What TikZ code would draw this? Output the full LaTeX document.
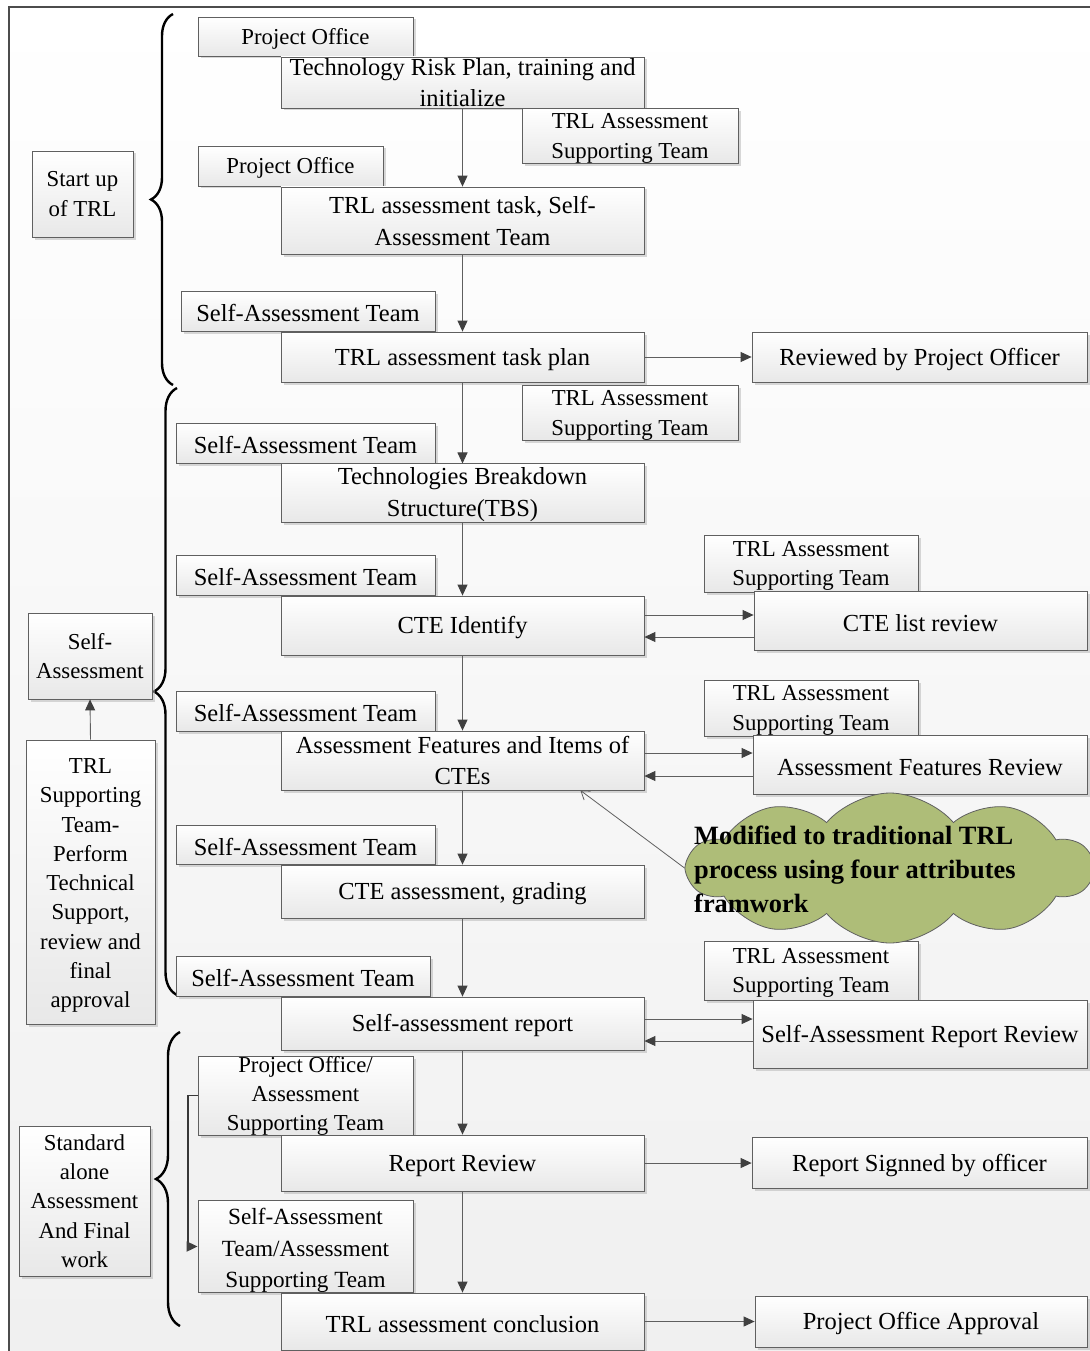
\documentclass[tikz,border=0pt]{standalone}
\usepackage{fontspec}
\setmainfont{Liberation Serif}
\usetikzlibrary{arrows.meta,shapes.symbols,shadows,decorations.pathreplacing,calc}

\definecolor{cloudg}{RGB}{174,189,120}
\definecolor{edge}{RGB}{96,96,96}
\definecolor{linec}{RGB}{95,95,95}
\definecolor{tipc}{RGB}{64,64,64}

% invisible strut that lowers a multi-line text block
\newcommand\lift[1]{\rule{0pt}{#1}}

\tikzset{
  box/.style={draw=edge, line width=0.8pt, top color=white, bottom color=black!9,
    inner sep=0pt, align=center,
    drop shadow={shadow xshift=2.5pt, shadow yshift=-2.5pt, fill=black!30}},
  % a tall invisible strut on single lines sets the text a little lower
  big/.style={box, font=\fontsize{24.5}{31.5}\selectfont,
    execute at begin node={\rule{0pt}{21.5pt}}},
  sml/.style={box, font=\fontsize{22.8}{29.3}\selectfont,
    execute at begin node={\rule{0pt}{20pt}}},
  nostrut/.style={execute at begin node={}},
  arr/.style={draw=linec, line width=0.9pt, -{Triangle[length=11pt,width=10pt,fill=tipc,color=tipc]}},
  callarrow/.style={draw=linec, line width=0.8pt, -{Straight Barb[length=8pt,width=11pt]}},
  brc/.style={decorate, decoration={brace, amplitude=#1}, line width=2.4pt, black},
}

\begin{document}
\begin{tikzpicture}[x=1pt, y=-1pt]
\useasboundingbox (0,0) rectangle (1089,1351);
% page and frame
\fill[white] (0,0) rectangle (1089,1351);
\path[top color=white, bottom color=black!6, draw=black!70, line width=1.2pt]
  (9,7) rectangle (1110,1370);

% phase braces
\draw[brc=22pt] (173,385) -- (173,14);
\draw[brc=23pt] (177,995) -- (177,388);
\draw[brc=24pt] (180,1326) -- (180,1032);

% phase labels (left column)
\node[sml, minimum width=101pt, minimum height=86pt] (l1) at (82.5,194) {Start up\\of TRL};
\node[sml, minimum width=124pt, minimum height=86pt] (l2) at (90,656) {Self-\\Assessment};
\node[sml, minimum width=129pt, minimum height=284pt, font=\fontsize{22.8}{29.25}\selectfont] (l3) at (90.5,882)
  {\lift{22pt}TRL\\Supporting\\Team-\\Perform\\Technical\\Support,\\review and\\final\\approval};
\node[sml, minimum width=131pt, minimum height=150pt] (l4) at (84.5,1201)
  {Standard\\alone\\Assessment\\And Final\\work};

% start-up phase
\node[sml, minimum width=215pt, minimum height=39pt] (po1) at (305.5,36.5) {Project Office};
\node[big, nostrut, minimum width=363pt, minimum height=51pt] (b2) at (462.5,82.5) {Technology Risk Plan, training and\\initialize};
\node[sml, minimum width=216pt, minimum height=54pt] (st3) at (630,136) {\lift{20pt}TRL Assessment\\Supporting Team};
\node[sml, minimum width=185pt, minimum height=40pt] (po4) at (290.5,166) {Project Office};
\node[big, minimum width=363pt, minimum height=67pt, font=\fontsize{24.5}{32}\selectfont] (b5) at (462.5,220.5) {TRL assessment task, Self-\\Assessment Team};
\node[big, minimum width=254pt, minimum height=40pt] (sa6) at (308,311) {Self-Assessment Team};
\node[big, minimum width=363pt, minimum height=50pt] (b7) at (462.5,357) {TRL assessment task plan};
\node[big, minimum width=335pt, minimum height=50pt] (r8) at (919.5,357) {Reviewed by Project Officer};

% self-assessment phase
\node[sml, minimum width=216pt, minimum height=54pt] (st9) at (630,413) {\lift{20pt}TRL Assessment\\Supporting Team};
\node[big, minimum width=259pt, minimum height=40pt] (sa10) at (305.5,443) {Self-Assessment Team};
\node[big, minimum width=363pt, minimum height=58pt, font=\fontsize{24.5}{32}\selectfont] (b11) at (462.5,493) {\lift{21pt}Technologies Breakdown\\Structure(TBS)};
\node[big, minimum width=259pt, minimum height=40pt] (sa12) at (305.5,575) {Self-Assessment Team};
\node[big, minimum width=363pt, minimum height=59pt] (b13) at (462.5,625.5) {CTE Identify};
\node[sml, minimum width=214pt, minimum height=57pt] (st14) at (811,563.5) {\lift{20pt}TRL Assessment\\Supporting Team};
\node[big, minimum width=333pt, minimum height=59pt] (r15) at (920.5,620.5) {CTE list review};
\node[big, minimum width=259pt, minimum height=40pt] (sa16) at (305.5,711) {Self-Assessment Team};
\node[big, minimum width=363pt, minimum height=59pt] (b17) at (462.5,760.5) {Assessment Features and Items of\\CTEs};
\node[sml, minimum width=214pt, minimum height=56pt] (st18) at (811,708) {\lift{20pt}TRL Assessment\\Supporting Team};
\node[big, minimum width=334pt, minimum height=59pt] (r19) at (920,764.5) {Assessment Features Review};
\node[big, minimum width=259pt, minimum height=39pt] (sa21) at (305.5,844.5) {Self-Assessment Team};
\node[big, minimum width=363pt, minimum height=53pt] (b22) at (462.5,891.5) {CTE assessment, grading};
\node[big, minimum width=254pt, minimum height=40pt] (sa23) at (303,976) {Self-Assessment Team};
\node[sml, minimum width=214pt, minimum height=59pt] (st24) at (811,970.5) {\lift{20pt}TRL Assessment\\Supporting Team};
\node[big, minimum width=363pt, minimum height=53pt] (b25) at (462.5,1023.5) {Self-assessment report};
\node[big, minimum width=334pt, minimum height=68pt] (r26) at (920,1034) {Self-Assessment Report Review};

% final phase
\node[sml, nostrut, minimum width=215pt, minimum height=77pt, font=\fontsize{22.8}{29}\selectfont] (po27) at (305.5,1095.5) {Project Office/\\Assessment\\Supporting Team};
\node[big, minimum width=363pt, minimum height=56pt] (b28) at (462.5,1163) {Report Review};
\node[big, minimum width=335pt, minimum height=51pt] (r29) at (919.5,1163) {Report Signned by officer};
\node[sml, minimum width=215pt, minimum height=91pt, font=\fontsize{23.2}{31.5}\selectfont] (st30) at (305.5,1246.5) {\lift{24.5pt}Self-Assessment\\Team/Assessment\\Supporting Team};
\node[big, minimum width=363pt, minimum height=57pt] (b31) at (462.5,1321.5) {TRL assessment conclusion};
\node[big, minimum width=332pt, minimum height=51pt] (r32) at (921,1321.5) {Project Office Approval};

% note cloud
\node[cloud, cloud puffs=10, cloud puff arc=100, cloud ignores aspect, draw=edge, line width=0.8pt,
  fill=cloudg, minimum width=404pt, minimum height=150pt, inner sep=0pt] (cl) at (890,868) {};
\node[font=\bfseries\fontsize{26.4}{34}\selectfont, align=left, anchor=west, inner sep=0pt] (clt) at (694,869)
  {Modified to traditional TRL\\process using four attributes\\framwork};

% main flow
\draw[arr] (b2.south) -- (b5.north);
\draw[arr] (b5.south) -- (b7.north);
\draw[arr] (b7.south) -- (b11.north);
\draw[arr] (b11.south) -- (b13.north);
\draw[arr] (b13.south) -- (b17.north);
\draw[arr] (b17.south) -- (b22.north);
\draw[arr] (b22.south) -- (b25.north);
\draw[arr] (b25.south) -- (b28.north);
\draw[arr] (b28.south) -- (b31.north);

% reviews
\draw[arr] (b7.east) -- (r8.west);
\path ($(b13.east)+(0,-10.5)$) coordinate (c1) ($(b13.east)+(0,11.5)$) coordinate (c2);
\draw[arr] (c1) -- (c1 -| r15.west);
\draw[arr] (c2 -| r15.west) -- (c2);
\path ($(b17.east)+(0,-7.5)$) coordinate (c3) ($(b17.east)+(0,15.5)$) coordinate (c4);
\draw[arr] (c3) -- (c3 -| r19.west);
\draw[arr] (c4 -| r19.west) -- (c4);
\path ($(b25.east)+(0,-4.5)$) coordinate (c5) ($(b25.east)+(0,17.5)$) coordinate (c6);
\draw[arr] (c5) -- (c5 -| r26.west);
\draw[arr] (c6 -| r26.west) -- (c6);
\draw[arr] (b28.east) -- (r29.west);
\draw[arr] (b31.east) -- (r32.west);

% support feeds self-assessment
\draw[arr] (l3.north) -- (l2.south);

% office hands over to the teams
\draw[arr, draw=black!78, line width=1.8pt] (po27.west) -- ++(-10,0) |- (st30.west);

% note pointer
\draw[callarrow] (cl.west) -- ($(b17.south east)+(-64,0)$);
\end{tikzpicture}
\end{document}
